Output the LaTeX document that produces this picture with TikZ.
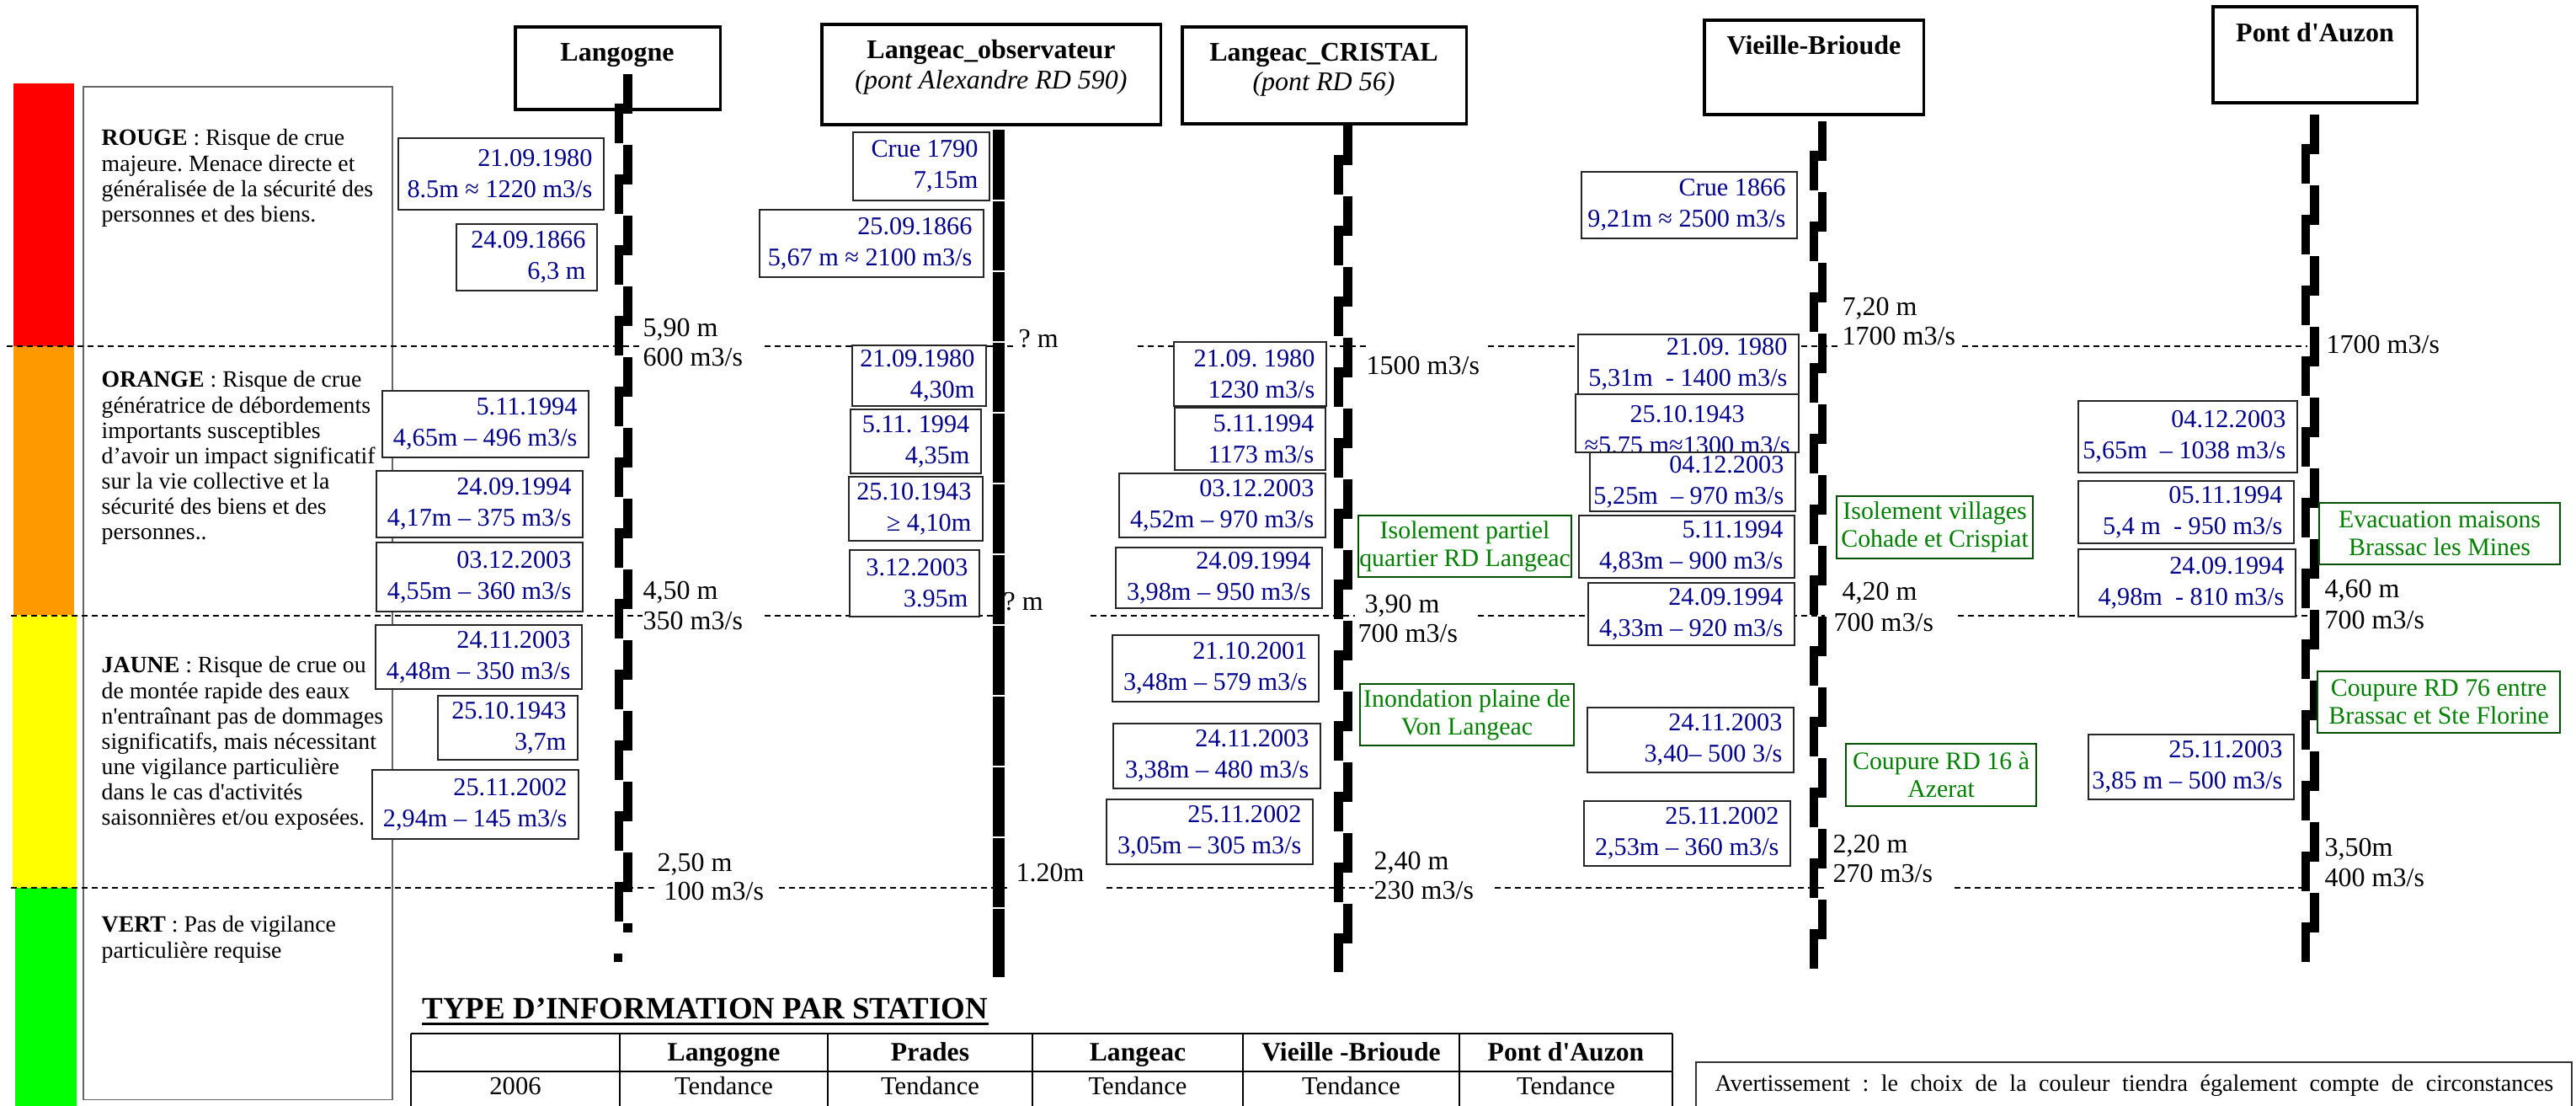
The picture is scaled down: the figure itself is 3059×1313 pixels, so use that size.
\documentclass[tikz,border=0pt]{standalone}
\usepackage{fontspec}
\setmainfont{Liberation Serif}
\usetikzlibrary{calc}
\frenchspacing
\definecolor{cred}{RGB}{255,0,0}
\definecolor{corange}{RGB}{255,153,0}
\definecolor{cyellow}{RGB}{255,255,0}
\definecolor{cgreen}{RGB}{0,255,0}
\definecolor{navyc}{RGB}{0,0,140}
\definecolor{gtext}{RGB}{0,128,0}
\definecolor{gborder}{RGB}{0,80,0}
\tikzset{
  bluebox/.style={draw=black!85, line width=0.015cm, fill=white, inner sep=0pt, outer sep=0pt},
  bluetext/.style={align=right, inner sep=0pt, text=navyc, font=\fontsize{8.6}{10.5}\selectfont},
  greenbox/.style={draw=gborder, line width=0.022cm, fill=white, inner sep=0pt, outer sep=0pt},
  greentext/.style={align=center, inner sep=0pt, text=gtext, font=\fontsize{8.5}{9.4}\selectfont},
  titlebox/.style={draw=black, line width=0.032cm, fill=white, inner sep=0pt, outer sep=0pt},
  ttl/.style={anchor=base, inner sep=0pt, font=\fontsize{9.1}{10}\selectfont\bfseries},
  ttlit/.style={anchor=base, inner sep=0pt, font=\fontsize{9.1}{10}\selectfont\itshape},
  lvl/.style={anchor=base west, inner sep=0pt, font=\fontsize{9.1}{10}\selectfont},
  lvline/.style={line width=0.022cm, dash pattern=on 0.07cm off 0.05cm},
  legtext/.style={anchor=base west, inner sep=0pt},
  tbl/.style={line width=0.02cm},
  thead/.style={anchor=base, inner sep=0pt, font=\fontsize{9}{10}\selectfont\bfseries},
  tdata/.style={anchor=base, inner sep=0pt, font=\fontsize{8.7}{10}\selectfont},
}
\newcommand{\bbx}[7]{%
  \pgfmathsetlengthmacro{\bw}{(#4-#2)*0.284528}%
  \pgfmathsetlengthmacro{\bh}{(#5-#3)*0.284528}%
  \node[bluebox, minimum width=\bw, minimum height=\bh, anchor=north west] (#1) at (#2,#3) {};
  \node[bluetext, anchor=east] (#1t) at ([xshift=-3.7pt]#1.east) {#6\\#7};}
\newcommand{\gbx}[7]{%
  \pgfmathsetlengthmacro{\bw}{(#4-#2)*0.284528}%
  \pgfmathsetlengthmacro{\bh}{(#5-#3)*0.284528}%
  \node[greenbox, minimum width=\bw, minimum height=\bh, anchor=north west] (#1) at (#2,#3) {};
  \node[greentext] (#1t) at (#1.center) {#6\\#7};}
\newcommand{\tbx}[5]{%
  \pgfmathsetlengthmacro{\bw}{(#4-#2)*0.284528}%
  \pgfmathsetlengthmacro{\bh}{(#5-#3)*0.284528}%
  \node[titlebox, minimum width=\bw, minimum height=\bh, anchor=north west] (#1) at (#2,#3) {};}
\newcommand{\gauge}[4]{%
  \begin{scope}
  \clip ({#1-30},#2) rectangle ({#1+30},#3);
  \foreach \k in {0,...,13}{%
    \fill ({#1},{#2+84*\k}) rectangle ({#1+#4},{#2+84*\k+47});
    \fill ({#1-#4},{#2+84*\k+35}) rectangle ({#1},{#2+84*\k+82});
  }
  \end{scope}}
\newcommand{\lv}[4]{\node[lvl] (#1) at (#2,#3) {#4};}
\begin{document}
\begin{tikzpicture}[x=0.01cm,y=-0.01cm]
\useasboundingbox (0,0) rectangle (3059,1313);
\clip (0,0) rectangle (3059,1313);
\fill[white] (0,0) rectangle (3059,1313);

% colour bar
\fill[cred] (16,99) rectangle (88,411);
\fill[corange] (16,411) rectangle (88,730);
\fill[cyellow] (15,730) rectangle (91,1054);
\fill[cgreen] (18,1054) rectangle (91,1313);

% legend box
\node[draw=black!60, line width=0.015cm, minimum width=104.4pt, minimum height=342pt, anchor=north west, inner sep=0pt, outer sep=0pt] (legend) at (99,103) {};
\node[legtext] (legR) at (120,173) {\parbox[t]{115pt}{\fontsize{7.9}{8.54}\selectfont\raggedright
  \textbf{ROUGE} : Risque de crue\\majeure. Menace directe et\\généralisée de la sécurité des\\personnes et des biens.}};
\node[legtext] (legO) at (120,460) {\parbox[t]{115pt}{\fontsize{7.9}{8.54}\selectfont\raggedright
  \textbf{ORANGE} : Risque de crue\\génératrice de débordements\\importants susceptibles\\d’avoir un impact significatif\\sur la vie collective et la\\sécurité des biens et des\\personnes..}};
\node[legtext] (legJ) at (120,799) {\parbox[t]{115pt}{\fontsize{7.9}{8.54}\selectfont\raggedright
  \textbf{JAUNE} : Risque de crue ou\\de montée rapide des eaux\\n\textquotesingle entraînant pas de dommages\\significatifs, mais nécessitant\\une vigilance particulière\\dans le cas d\textquotesingle activités\\saisonnières et/ou exposées.}};
\node[legtext] (legV) at (120,1107) {\parbox[t]{115pt}{\fontsize{7.9}{8.54}\selectfont\raggedright
  \textbf{VERT} : Pas de vigilance\\particulière requise}};

% level lines
\draw[lvline] (8,411) -- (763,411);
\draw[lvline] (908,411) -- (1206,411);
\draw[lvline] (1351,411) -- (1622,411);
\draw[lvline] (1767,411) -- (2184,411);
\draw[lvline] (2330,411) -- (2740,411);
\draw[lvline] (13,731) -- (763,731);
\draw[lvline] (908,731) -- (1190,731);
\draw[lvline] (1295,731) -- (1609,731);
\draw[lvline] (1755,731) -- (2167,731);
\draw[lvline] (2325,731) -- (2743,731);
\draw[lvline] (13,1054) -- (778,1054);
\draw[lvline] (925,1054) -- (1201,1054);
\draw[lvline] (1314,1054) -- (1631,1054);
\draw[lvline] (1775,1054) -- (2167,1054);
\draw[lvline] (2321,1054) -- (2743,1054);

% station title boxes
\tbx{sLang}{612}{32}{855}{130}
\tbx{sObs}{976}{29}{1378}{148}
\tbx{sCri}{1404}{32}{1741}{147}
\tbx{sVB}{2024}{24}{2284}{136}
\tbx{sPA}{2628}{8}{2870}{122}
\node[ttl] (sLangT) at (733,73) {Langogne};
\node[ttl] (sObsT) at (1177,70) {Langeac\_observateur};
\node[ttlit] (sObsI) at (1177,106) {(pont Alexandre RD 590)};
\node[ttl] (sCriT) at (1572,73) {Langeac\_CRISTAL};
\node[ttlit] (sCriI) at (1572,108) {(pont RD 56)};
\node[ttl] (sVBT) at (2154,65) {Vieille-Brioude};
\node[ttl] (sPAT) at (2749,50) {Pont d\textquotesingle Auzon};

% gauges
\gauge{740}{88}{1107}{10.5}
\fill (729,1132) rectangle (739,1142);
\gauge{1595}{149}{1154}{11}
\gauge{2159}{144}{1150}{10}
\gauge{2743}{136}{1142}{10.5}
\fill (1179,154) rectangle (1193,1160);
\foreach \g in {237,321,...,1077} \fill[white] (1175,\g) rectangle (1197,\g+2.5);

% Langogne boxes
\bbx{L1}{473}{164}{717}{249}{21.09.1980}{8.5m ≈ 1220 m3/s}
\bbx{L2}{542}{266}{709}{345}{24.09.1866}{6,3 m}
\bbx{L3}{454}{464}{699}{543}{5.11.1994}{4,65m – 496 m3/s}
\bbx{L4}{447}{559}{692}{638}{24.09.1994}{4,17m – 375 m3/s}
\bbx{L5}{447}{644}{692}{726}{03.12.2003}{4,55m – 360 m3/s}
\bbx{L6}{446}{742}{691}{818}{24.11.2003}{4,48m – 350 m3/s}
\bbx{L7}{520}{826}{686}{902}{25.10.1943}{3,7m}
\bbx{L8}{442}{914}{687}{996}{25.11.2002}{2,94m – 145 m3/s}
% Langeac observateur boxes
\bbx{O1}{1013}{157}{1175}{238}{Crue 1790}{7,15m}
\bbx{O2}{902}{249}{1168}{329}{25.09.1866}{5,67 m ≈ 2100 m3/s}
\bbx{O3}{1012}{410}{1171}{482}{21.09.1980}{4,30m}
\bbx{O4}{1010}{486}{1165}{562}{5.11. 1994}{4,35m}
\bbx{O5}{1008}{566}{1167}{642}{25.10.1943}{≥ 4,10m}
\bbx{O6}{1009}{653}{1163}{732}{3.12.2003}{3.95m}
% Langeac CRISTAL boxes
\bbx{C1}{1394}{406}{1575}{482}{21.09. 1980}{1230 m3/s}
\bbx{C2}{1395}{484}{1574}{558}{5.11.1994}{1173 m3/s}
\bbx{C3}{1329}{562}{1574}{638}{03.12.2003}{4,52m – 970 m3/s}
\bbx{C4}{1325}{650}{1570}{722}{24.09.1994}{3,98m – 950 m3/s}
\bbx{C5}{1321}{754}{1566}{833}{21.10.2001}{3,48m – 579 m3/s}
\bbx{C6}{1322}{859}{1568}{936}{24.11.2003}{3,38m – 480 m3/s}
\bbx{C7}{1314}{949}{1559}{1026}{25.11.2002}{3,05m – 305 m3/s}
% Vieille-Brioude boxes
\bbx{V1}{1878}{204}{2134}{283}{Crue 1866}{9,21m ≈ 2500 m3/s}
\bbx{V2}{1874}{397}{2136}{468}{21.09. 1980}{5,31m\ \ - 1400 m3/s}
\node[bluebox, minimum width=75.4pt, minimum height=19.6pt, anchor=north west] (V3) at (1871,468) {};
\node[bluetext, align=center] (V3t) at ([yshift=-2.3pt]V3.center) {25.10.1943\\≈5.75 m≈1300 m3/s};
\bbx{V4}{1888}{537}{2132}{607}{04.12.2003}{5,25m\ \ – 970 m3/s}
\bbx{V5}{1875}{612}{2131}{686}{5.11.1994}{4,83m – 900 m3/s}
\bbx{V6}{1886}{692}{2131}{766}{24.09.1994}{4,33m – 920 m3/s}
\bbx{V7}{1885}{840}{2130}{917}{24.11.2003}{3,40– 500 3/s}
\bbx{V8}{1881}{951}{2126}{1028}{25.11.2002}{2,53m – 360 m3/s}
% Pont d'Auzon boxes
\bbx{P1}{2468}{476}{2728}{561}{04.12.2003}{5,65m\ \ – 1038 m3/s}
\bbx{P2}{2468}{571}{2724}{645}{05.11.1994}{5,4 m\ \ - 950 m3/s}
\bbx{P3}{2468}{652}{2726}{732}{24.09.1994}{4,98m\ \ - 810 m3/s}
\bbx{P4}{2480}{872}{2724}{949}{25.11.2003}{3,85 m – 500 m3/s}

% green boxes
\gbx{G1}{1613}{612}{1866}{685}{Isolement partiel}{quartier RD Langeac}
\gbx{G2}{1615}{812}{1869}{885}{Inondation plaine de}{Von Langeac}
\gbx{G3}{2181}{589}{2414}{663}{Isolement villages}{Cohade et Crispiat}
\gbx{G4}{2192}{883}{2418}{957}{Coupure RD 16 à}{Azerat}
\gbx{G5}{2754}{597}{3040}{670}{Evacuation maisons}{Brassac les Mines}
\gbx{G6}{2752}{797}{3040}{870}{Coupure RD 76 entre}{Brassac et Ste Florine}

% level labels
\lv{la1}{763}{400}{5,90 m}
\lv{la2}{763}{435}{600 m3/s}
\lv{la3}{763}{712}{4,50 m}
\lv{la4}{763}{748}{350 m3/s}
\lv{la5}{780}{1035}{2,50 m}
\lv{la6}{788}{1069}{100 m3/s}
\lv{lo1}{1209}{413}{? m}
\lv{lo2}{1191}{725}{? m}
\lv{lo3}{1206}{1047}{1.20m}
\lv{lc1}{1622}{445}{1500 m3/s}
\lv{lc2}{1620}{728}{3,90 m}
\lv{lc3}{1612}{763}{700 m3/s}
\lv{lc4}{1631}{1033}{2,40 m}
\lv{lc5}{1631}{1068}{230 m3/s}
\lv{lv1}{2187}{375}{7,20 m}
\lv{lv2}{2187}{410}{1700 m3/s}
\lv{lv3}{2187}{713}{4,20 m}
\lv{lv4}{2177}{750}{700 m3/s}
\lv{lv5}{2176}{1013}{2,20 m}
\lv{lv6}{2176}{1048}{270 m3/s}
\lv{lp1}{2762}{420}{1700 m3/s}
\lv{lp2}{2760}{710}{4,60 m}
\lv{lp3}{2760}{747}{700 m3/s}
\lv{lp4}{2760}{1017}{3,50m}
\lv{lp5}{2760}{1053}{400 m3/s}

% table
\node[anchor=base west, inner sep=0pt, font=\fontsize{10.5}{12}\selectfont\bfseries] (ttitle) at (501,1210) {TYPE D’INFORMATION PAR STATION};
\draw[line width=0.03cm] ([yshift=-1.7pt]ttitle.base west) -- ([yshift=-1.7pt]ttitle.base east);
\draw[tbl] (488,1227) -- (1986,1227);
\draw[tbl] (488,1272) -- (1986,1272);
\foreach \cx in {488,736,983,1226,1476,1733,1986} \draw[tbl] (\cx,1227) -- (\cx,1330);
\node[thead] (h1) at (859.5,1260) {Langogne};
\node[thead] (h2) at (1104.5,1260) {Prades};
\node[thead] (h3) at (1351,1260) {Langeac};
\node[thead] (h4) at (1604.5,1260) {Vieille -Brioude};
\node[thead] (h5) at (1859.5,1260) {Pont d\textquotesingle Auzon};
\node[tdata] (d0) at (612,1300) {2006};
\node[tdata] (d1) at (859.5,1300) {Tendance};
\node[tdata] (d2) at (1104.5,1300) {Tendance};
\node[tdata] (d3) at (1351,1300) {Tendance};
\node[tdata] (d4) at (1604.5,1300) {Tendance};
\node[tdata] (d5) at (1859.5,1300) {Tendance};

% avertissement
\draw[line width=0.018cm, black!80] (2014,1330) -- (2014,1261) -- (3054,1261) -- (3054,1330);
\node[anchor=base west, inner sep=0pt, font=\fontsize{8}{9}\selectfont] (avert) at (2036,1295) {\makebox[283.1pt][s]{Avertissement : le choix de la couleur tiendra également compte de circonstances}};
\end{tikzpicture}
\end{document}
